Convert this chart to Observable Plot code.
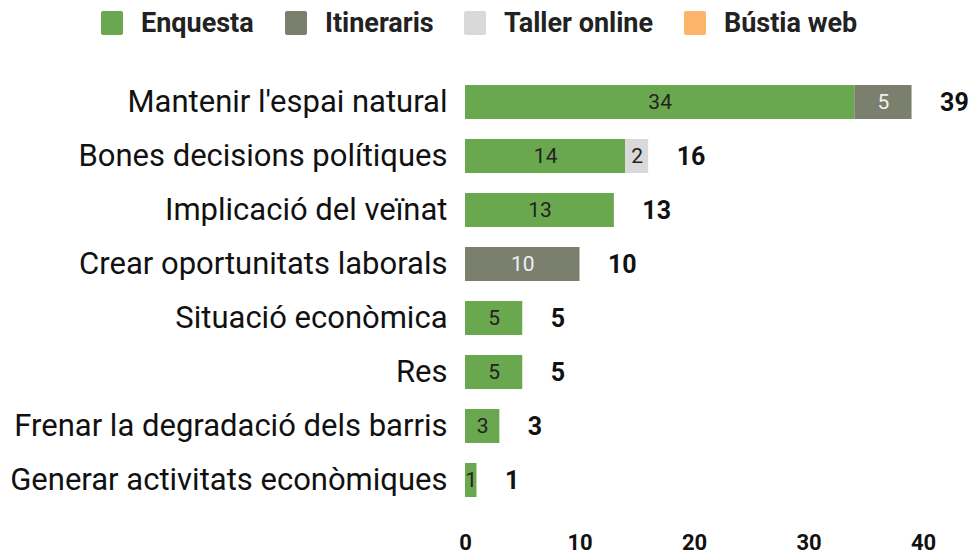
<!DOCTYPE html>
<html>
<head>
<meta charset="utf-8">
<script src="https://cdn.jsdelivr.net/npm/d3@7"></script>
<script src="https://cdn.jsdelivr.net/npm/@observablehq/plot@0.6"></script>
<style>
  body { margin: 0; background: #fff; font-family: Roboto, sans-serif; overflow: hidden; }
  #legend { position: relative; height: 50px; width: 972px; }
  #chart svg { display: block; }
  .item { position: absolute; top: 8px; display: flex; align-items: center; font-weight: bold; font-size: 27px; color: #222; line-height: 30px; }
  .sw { width: 22px; height: 24px; border-radius: 2px; margin-right: 18px; }
</style>
</head>
<body>
<div id="legend"></div>
<div id="chart"></div>
<script>
const categories = [
  "Mantenir l'espai natural",
  "Bones decisions polítiques",
  "Implicació del veïnat",
  "Crear oportunitats laborals",
  "Situació econòmica",
  "Res",
  "Frenar la degradació dels barris",
  "Generar activitats econòmiques"
];
const seriesNames = ["Enquesta", "Itineraris", "Taller online", "Bústia web"];
const seriesColors = ["#6aa84f", "#7b806e", "#d9d9d9", "#fdb46b"];
const enquesta   = [34, 14, 13, 0, 5, 5, 3, 1];
const itineraris = [5, 0, 0, 10, 0, 0, 0, 0];
const taller     = [0, 2, 0, 0, 0, 0, 0, 0];
const bustia     = [0, 0, 0, 0, 0, 0, 0, 0];
const xTicks = [0, 10, 20, 30, 40];

const seriesValues = [enquesta, itineraris, taller, bustia];
const data = [];
seriesNames.forEach((s, si) => {
  categories.forEach((c, ci) => {
    data.push({cat: c, series: s, value: seriesValues[si][ci]});
  });
});
const totals = categories.map((c, ci) => ({cat: c, total: seriesValues.reduce((a, v) => a + v[ci], 0)}));
const labelData = data.filter(d => d.value > 0);

// legend
const legendX = [101, 285, 464, 684];
const legend = document.getElementById("legend");
seriesNames.forEach((s, i) => {
  const el = document.createElement("div");
  el.className = "item";
  el.style.left = legendX[i] + "px";
  el.innerHTML = `<span class="sw" style="background:${seriesColors[i]}"></span><span>${s}</span>`;
  legend.appendChild(el);
});

const chart = Plot.plot({
  width: 972,
  height: 504,
  marginLeft: 465,
  marginRight: 49,
  marginTop: 23,
  marginBottom: 46,
  style: {fontFamily: "Roboto, sans-serif", color: "#111"},
  x: {domain: [0, 40], ticks: xTicks, label: null, tickSize: 0},
  y: {domain: categories, label: null, paddingInner: 0.375, paddingOuter: 0.1875, tickSize: 0},
  color: {domain: seriesNames, range: seriesColors},
  marks: [
    Plot.barX(data, Plot.stackX({x: "value", y: "cat", fill: "series", order: seriesNames})),
    Plot.text(labelData, Plot.stackX({
      x: "value", y: "cat", z: "series", order: seriesNames, text: d => String(d.value),
      fill: d => d.series === "Itineraris" ? "#f0f0f0" : "#222",
      fontSize: 21
    })),
    Plot.text(totals, {x: "total", y: "cat", text: d => String(d.total), dx: 28, textAnchor: "start",
      fontSize: 25, fontWeight: "bold", fill: "#111"}),
    Plot.axisY({tickSize: 0, tickPadding: 18, fontSize: 31, label: null}),
    Plot.axisX({ticks: xTicks, tickSize: 0, tickPadding: 26, fontSize: 22, fontWeight: "bold", label: null})
  ]
});
chart.querySelectorAll("[aria-label='x-axis tick label'] text, [aria-label='y-axis tick label'] text").forEach(t => t.setAttribute("fill", "#111"));
document.getElementById("chart").appendChild(chart);
</script>
</body>
</html>
